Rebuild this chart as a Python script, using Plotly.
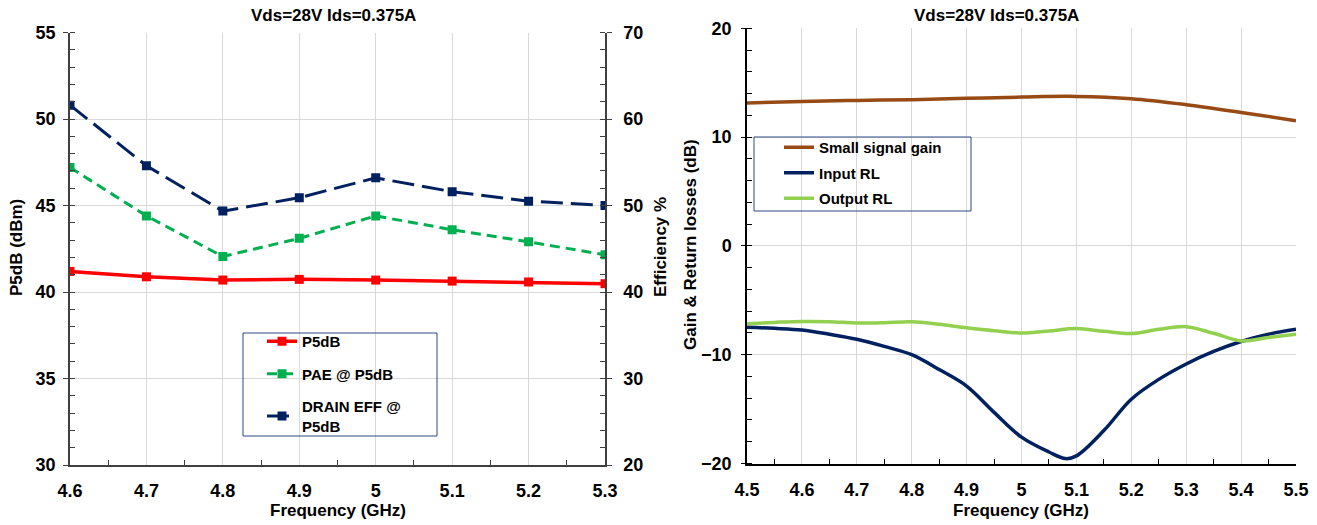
import plotly.graph_objects as go

W, H = 1317, 525

# ---------------- data ----------------
freq_left = [4.6, 4.7, 4.8, 4.9, 5.0, 5.1, 5.2, 5.3]
p5db = [41.19, 40.88, 40.69, 40.73, 40.69, 40.63, 40.58, 40.48]
pae = [54.4, 48.8, 44.1, 46.2, 48.8, 47.2, 45.8, 44.3]
drain_eff = [61.6, 54.6, 49.35, 50.9, 53.2, 51.6, 50.5, 50.0]

freq_gain = [4.5, 4.6, 4.7, 4.8, 4.9, 5.0, 5.1, 5.2, 5.3, 5.4, 5.5]
gain = [13.13, 13.28, 13.37, 13.44, 13.56, 13.68, 13.74, 13.53, 12.98, 12.27, 11.51]

freq_in = [4.5, 4.55, 4.6, 4.65, 4.7, 4.75, 4.8, 4.85, 4.9, 4.95, 5.0, 5.05,
           5.08, 5.1, 5.15, 5.2, 5.25, 5.3, 5.35, 5.4, 5.45, 5.5]
input_rl = [-7.48, -7.58, -7.73, -8.12, -8.58, -9.24, -10.0, -11.36, -12.88, -15.3,
            -17.58, -18.94, -19.55, -19.3, -16.97, -14.09, -12.27, -10.85, -9.7,
            -8.79, -8.12, -7.67]

freq_out = [4.5, 4.55, 4.6, 4.65, 4.7, 4.75, 4.8, 4.85, 4.9, 4.95, 5.0, 5.05,
            5.1, 5.15, 5.2, 5.25, 5.3, 5.35, 5.4, 5.45, 5.5]
output_rl = [-7.15, -7.03, -6.94, -6.97, -7.09, -7.06, -6.97, -7.21, -7.52, -7.79,
             -8.0, -7.82, -7.6, -7.85, -8.06, -7.67, -7.42, -8.03, -8.73, -8.42, -8.12]

title_text = "Vds=28V Ids=0.375A"

# ---------------- helpers ----------------
def px_x(p):
    return p / W

def px_y(p):
    return (H - p) / H

FONT = "Liberation Sans, Arial, sans-serif"
tickfont = dict(family=FONT, size=18, color="black", weight="bold")
GRID = "#D9D9D9"

fig = go.Figure()

fig.add_trace(go.Scatter(
    x=freq_left, y=p5db, name="P5dB", mode="lines+markers",
    line=dict(color="#FF0000", width=3.5),
    marker=dict(symbol="square", size=9, color="#FF0000"),
    xaxis="x", yaxis="y", legend="legend", legendgroup="a"))
fig.add_trace(go.Scatter(
    x=freq_left, y=pae, name="PAE @ P5dB", mode="lines+markers",
    line=dict(color="#00B050", width=3, dash="10px,6px"),
    marker=dict(symbol="square", size=9, color="#00B050"),
    xaxis="x", yaxis="y2", legend="legend", legendgroup="b"))
fig.add_trace(go.Scatter(
    x=freq_left, y=drain_eff, name="DRAIN EFF @<br>P5dB", mode="lines+markers",
    line=dict(color="#002060", width=3, dash="22px,8px"),
    marker=dict(symbol="square", size=9, color="#002060"),
    xaxis="x", yaxis="y2", legend="legend", legendgroup="c"))

fig.add_trace(go.Scatter(
    x=freq_gain, y=gain, name="Small signal gain", mode="lines",
    line=dict(color="#984A14", width=3.5, shape="spline"),
    xaxis="x2", yaxis="y3", legend="legend2", legendgroup="d"))
fig.add_trace(go.Scatter(
    x=freq_in, y=input_rl, name="Input RL", mode="lines",
    line=dict(color="#002060", width=3.5, shape="spline"),
    xaxis="x2", yaxis="y3", legend="legend2", legendgroup="e"))
fig.add_trace(go.Scatter(
    x=freq_out, y=output_rl, name="Output RL", mode="lines",
    line=dict(color="#92D050", width=3.5, shape="spline"),
    xaxis="x2", yaxis="y3", legend="legend2", legendgroup="f"))

L_X0, L_X1 = px_x(70), px_x(605)
L_Y0, L_Y1 = px_y(465), px_y(32.5)
R_X0, R_X1 = px_x(747), px_x(1296)
R_Y0, R_Y1 = px_y(463.5), px_y(28.3)

common_x = dict(showgrid=True, gridcolor=GRID, gridwidth=1, showline=True,
                linewidth=1.5, ticks="", tickfont=tickfont, ticklabelstandoff=9,
                zeroline=False)

fig.update_layout(
    width=W, height=H,
    margin=dict(l=0, r=0, t=0, b=0, pad=0, autoexpand=False),
    paper_bgcolor="white", plot_bgcolor="white",
    showlegend=True,
    xaxis=dict(domain=[L_X0, L_X1], range=[4.6, 5.3], tick0=4.6, dtick=0.1,
               anchor="y", linecolor="#404040",
               minor=dict(ticks="inside", dtick=0.05, tick0=4.6, ticklen=5,
                          tickcolor="#404040", showgrid=False),
               **common_x),
    yaxis=dict(domain=[L_Y0, L_Y1], range=[30, 55], dtick=5, anchor="x",
               showgrid=True, gridcolor=GRID, showline=True, linecolor="#404040",
               linewidth=1.5, ticks="outside", ticklen=5, tickcolor="#404040",
               tickfont=tickfont, zeroline=False, ticklabelstandoff=4,
               minor=dict(ticks="inside", dtick=1, ticklen=5, tickcolor="#404040",
                          showgrid=False)),
    yaxis2=dict(overlaying="y", side="right", anchor="x", range=[20, 70], dtick=10,
                showgrid=False, showline=True, linecolor="#404040", linewidth=1.5,
                ticks="outside", ticklen=5, tickcolor="#404040", tickfont=tickfont,
                zeroline=False, ticklabelstandoff=8,
                minor=dict(ticks="inside", dtick=2, ticklen=5, tickcolor="#404040",
                           showgrid=False)),
    xaxis2=dict(domain=[R_X0, R_X1], range=[4.5, 5.5], tick0=4.5, dtick=0.1,
                anchor="y3", linecolor="black",
                minor=dict(ticks="inside", dtick=0.05, tick0=4.5, ticklen=5,
                           tickcolor="black", showgrid=False),
                **common_x),
    yaxis3=dict(domain=[R_Y0, R_Y1], range=[-20, 20], dtick=10, anchor="x2",
                showgrid=True, gridcolor=GRID, showline=True, linecolor="black",
                linewidth=1.5, ticks="outside", ticklen=4, tickcolor="black",
                tickfont=tickfont, zeroline=False, ticklabelstandoff=6,
                minor=dict(ticks="inside", dtick=2, ticklen=5, tickcolor="black",
                           showgrid=False)),
    legend=dict(x=px_x(262), y=px_y(325), xanchor="left", yanchor="top",
                bgcolor="rgba(0,0,0,0)", borderwidth=0, tracegroupgap=10,
                font=dict(family=FONT, size=15, color="black", weight="bold"),
                itemwidth=30),
    legend2=dict(x=px_x(779), y=px_y(131), xanchor="left", yanchor="top",
                 bgcolor="rgba(0,0,0,0)", borderwidth=0, tracegroupgap=3,
                 font=dict(family=FONT, size=15, color="black", weight="bold"),
                 itemwidth=30),
)

# legend frames
fig.add_shape(type="rect", xref="paper", yref="paper",
              x0=px_x(243), x1=px_x(437), y0=px_y(436), y1=px_y(333),
              line=dict(color="#2F4A8A", width=1), fillcolor="rgba(0,0,0,0)")
fig.add_shape(type="rect", xref="paper", yref="paper",
              x0=px_x(754), x1=px_x(971), y0=px_y(211), y1=px_y(137),
              line=dict(color="#2F4A8A", width=1), fillcolor="rgba(0,0,0,0)")

tfont = dict(family=FONT, size=17, color="black", weight="bold")
ann = [
    dict(text=title_text, x=px_x(333), y=px_y(15)),
    dict(text=title_text, x=px_x(997), y=px_y(15)),
    dict(text="Frequency (GHz)", x=px_x(338), y=px_y(510)),
    dict(text="Frequency (GHz)", x=px_x(1021), y=px_y(510)),
    dict(text="P5dB (dBm)", x=px_x(17), y=px_y(248), textangle=-90),
    dict(text="Efficiency %", x=px_x(660), y=px_y(247), textangle=-90),
    dict(text="Gain & Return losses (dB)", x=px_x(690), y=px_y(245), textangle=-90),
]
for a in ann:
    fig.add_annotation(xref="paper", yref="paper", showarrow=False,
                       xanchor="center", yanchor="middle", font=tfont, **a)

fig.write_html("out.html")
